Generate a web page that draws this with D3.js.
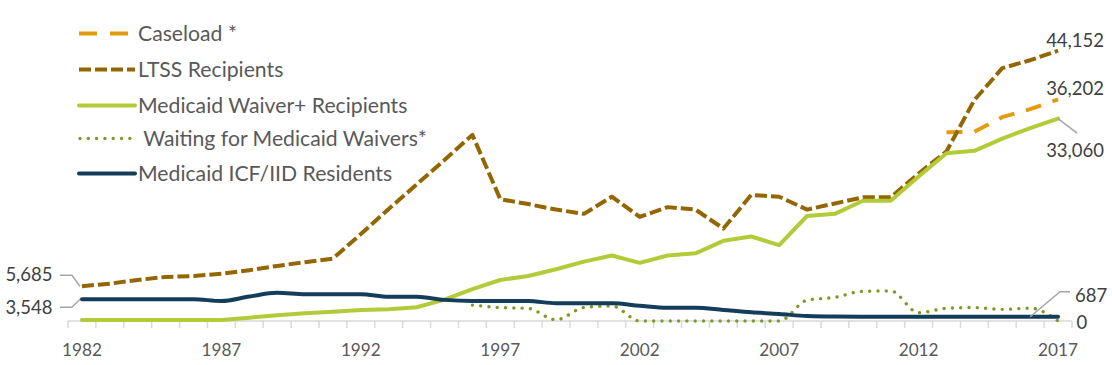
<!DOCTYPE html>
<html>
<head>
<meta charset="utf-8">
<script src="https://cdn.jsdelivr.net/npm/d3@7/dist/d3.min.js"></script>
<style>
  html, body { margin: 0; padding: 0; background: #fff; }
  svg { display: block; }
  text { font-family: Lato, "Open Sans", sans-serif; }
</style>
</head>
<body>
<svg id="chart" width="1112" height="365"></svg>
<script>
// ---- Data ----
const years = d3.range(1982, 2018);
const caseload = [null,null,null,null,null,null,null,null,null,null,
  null,null,null,null,null,null,null,null,null,null,
  null,null,null,null,null,null,null,null,null,null,
  null,30850,30900,33300,34600,36202];
const ltss = [5685,6100,6700,7200,7350,7700,8300,9000,9600,10200,
  14200,18300,22300,26300,30400,19900,19100,18200,17500,20300,
  17000,18600,18200,15100,20600,20300,18200,19200,20200,20200,
  24100,27700,36100,41300,42600,44152];
const waiver = [150,150,150,150,150,150,550,930,1250,1500,
  1800,1900,2240,3500,5200,6700,7350,8450,9700,10700,
  9500,10700,11050,13100,13800,12400,17150,17500,19650,19650,
  23600,27400,27800,29800,31500,33060];
const waiting = [null,null,null,null,null,null,null,null,null,null,
  null,null,null,null,2600,2200,2050,200,2200,2450,
  0,0,0,0,0,0,3400,3870,4850,4900,
  1350,2070,2200,1900,2100,0];
const icf = [3548,3548,3548,3548,3548,3270,4000,4600,4350,4350,
  4350,3950,3950,3450,3270,3270,3270,2900,2900,2900,
  2500,2170,2170,1800,1420,1150,800,720,710,700,
  700,700,695,690,690,687];
const seriesNames = ["Caseload *","LTSS Recipients","Medicaid Waiver+ Recipients"," Waiting for Medicaid Waivers*","Medicaid ICF/IID Residents"];
const tickYears = [1982,1987,1992,1997,2002,2007,2012,2017];

// ---- Styles ----
const styles = [
  {color:"#E39B10", width:4, dash:"16,12", cap:"butt", curve:d3.curveLinear},
  {color:"#936600", width:4, dash:"12,4", cap:"butt", curve:d3.curveLinear},
  {color:"#B2CB38", width:4, dash:null, cap:"round", curve:d3.curveLinear},
  {color:"#7E9A26", width:3.4, dash:"0.01,8.3", cap:"round", curve:d3.curveMonotoneX},
  {color:"#143D5C", width:4, dash:null, cap:"round", curve:d3.curveMonotoneX}
];
const allSeries = [caseload, ltss, waiver, waiting, icf];

const svg = d3.select("#chart");
const band = d3.scaleBand().domain(years).range([68, 1072]).paddingInner(0).paddingOuter(0);
const x = d => band(d) + band.bandwidth() / 2;
const y = d3.scaleLinear().domain([0, 50000]).range([321, 14.9]);

// ---- Axis ----
const axisG = svg.append("g");
axisG.append("line").attr("x1", band.range()[0]).attr("x2", band.range()[1])
  .attr("y1", y(0)).attr("y2", y(0)).attr("stroke", "#D9D9D9").attr("stroke-width", 1.5);
const bounds = years.map(d => band(d)).concat([band.range()[1]]);
axisG.selectAll("line.tick").data(bounds).enter().append("line")
  .attr("x1", d => d).attr("x2", d => d).attr("y1", y(0)).attr("y2", y(0) + 7)
  .attr("stroke", "#D9D9D9").attr("stroke-width", 1.5);
const xAxis = d3.axisBottom(band).tickValues(tickYears).tickSize(0).tickPadding(0).tickFormat(d3.format("d"));
const xg = svg.append("g").attr("transform", `translate(0,${y(0)})`).call(xAxis);
xg.select(".domain").remove();
xg.selectAll("text").attr("font-size", 17.2).attr("fill", "#595959").attr("dy", null)
  .attr("y", 34.5).attr("font-family", "Lato, sans-serif");

// ---- Lines ----
allSeries.forEach((data, i) => {
  const st = styles[i];
  const line = d3.line().defined(d => d != null).x((d, j) => x(years[j])).y(d => y(d)).curve(st.curve);
  svg.append("path").datum(data).attr("d", line).attr("fill", "none")
    .attr("stroke", st.color).attr("stroke-width", st.width)
    .attr("stroke-dasharray", st.dash).attr("stroke-linecap", st.cap).attr("stroke-linejoin", "round");
});

// ---- Legend ----
const legY = [33.5, 69.5, 105.5, 138.5, 173.5];
const leg = svg.append("g");
seriesNames.forEach((name, i) => {
  const st = styles[i];
  leg.append("line").attr("x1", i === 3 ? 80 : 79).attr("x2", i === 3 ? 131 : 135).attr("y1", legY[i]).attr("y2", legY[i])
    .attr("stroke", st.color).attr("stroke-width", st.width)
    .attr("stroke-dasharray", i === 0 ? "18,13" : st.dash).attr("stroke-linecap", st.cap === "round" ? "round" : "butt");
  leg.append("text").attr("x", 138).attr("y", legY[i]).attr("dy", "0.36em")
    .attr("font-size", 21.2).attr("fill", "#595959").attr("xml:space", "preserve").text(name);
});

// ---- Data labels ----
const n = years.length - 1;
const lab = svg.append("g").attr("font-size", 18.5).attr("fill", "#404040");
const lead = svg.append("g").attr("stroke", "#A6A6A6").attr("stroke-width", 1.5).attr("fill", "none");
function addLabel(text, tx, ty, anchor) {
  lab.append("text").attr("x", tx).attr("y", ty).attr("dy", "0.36em").attr("text-anchor", anchor).text(text);
}
const fmt = d3.format(",");
// right side
addLabel(fmt(ltss[n]), 1104, 40, "end");
addLabel(fmt(caseload[n]), 1104, 88, "end");
addLabel(fmt(waiver[n]), 1104, 150.5, "end");
lead.append("path").attr("d", `M${x(years[n])},${y(waiver[n])}L${x(years[n]) + 19},${y(waiver[n]) + 14.5}`);
addLabel(fmt(icf[n]), 1075, 295, "start");
lead.append("path").attr("d", `M${x(years[n - 1])},${y(icf[n])}L${x(years[n]) + 2},${y(icf[n]) - 25}L${x(years[n]) + 12},${y(icf[n]) - 25}`);
addLabel(fmt(waiting[n]), 1076.5, 322, "start");
// left side
addLabel(fmt(ltss[0]), 52.5, 274, "end");
lead.append("path").attr("d", `M${x(years[0]) - 2},${y(ltss[0])}L${x(years[0]) - 10},${y(ltss[0]) - 11}L60,${y(ltss[0]) - 11}`);
addLabel(fmt(icf[0]), 52.5, 307, "end");
lead.append("path").attr("d", `M${x(years[0]) - 2},${y(icf[0])}L${x(years[0]) - 10},${y(icf[0]) + 8}L60,${y(icf[0]) + 8}`);
</script>
</body>
</html>
